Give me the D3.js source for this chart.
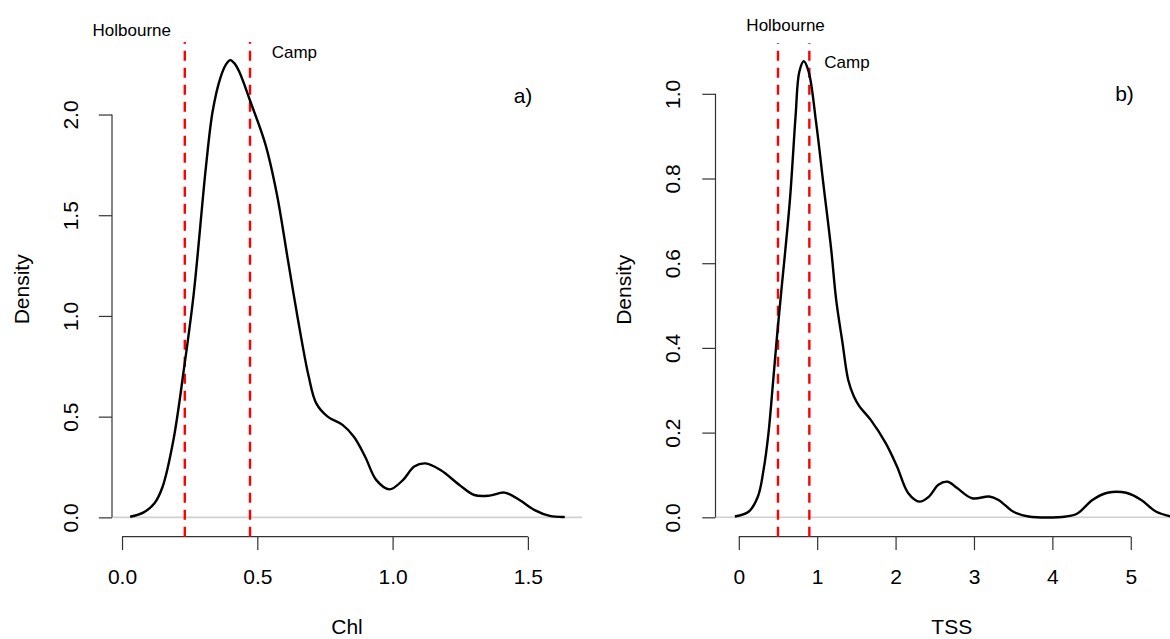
<!DOCTYPE html>
<html>
<head>
<meta charset="utf-8">
<script src="https://cdn.jsdelivr.net/npm/d3@7"></script>
<style>
  body { margin: 0; background: #fff; }
  text { font-family: "Liberation Sans", Arial, sans-serif; fill: #000; }
</style>
</head>
<body>
<div id="graph"></div>
<script>
// chlorophyll density curve (Chl, density)
const chlX = [0.03, 0.08, 0.12, 0.15, 0.19, 0.23, 0.265, 0.31, 0.335, 0.363, 0.385, 0.40, 0.415, 0.433, 0.474, 0.53, 0.572, 0.613, 0.648, 0.69, 0.718, 0.76, 0.815, 0.857, 0.899, 0.94, 0.989, 1.038, 1.08, 1.121, 1.177, 1.247, 1.302, 1.358, 1.414, 1.469, 1.525, 1.581, 1.636]
const chlDensity = [0.003, 0.025, 0.07, 0.152, 0.384, 0.748, 1.11, 1.738, 2.016, 2.18, 2.25, 2.27, 2.255, 2.213, 2.066, 1.852, 1.607, 1.279, 1.0, 0.699, 0.566, 0.5, 0.459, 0.4, 0.3, 0.185, 0.139, 0.185, 0.252, 0.268, 0.235, 0.161, 0.111, 0.108, 0.123, 0.086, 0.036, 0.007, 0.002]

// TSS density curve (TSS, density)
const tssX = [-0.05, 0.125, 0.244, 0.316, 0.379, 0.436, 0.484, 0.532, 0.652, 0.724, 0.772, 0.829, 0.892, 0.988, 1.083, 1.179, 1.242, 1.323, 1.395, 1.467, 1.539, 1.683, 1.874, 2.018, 2.162, 2.306, 2.426, 2.546, 2.665, 2.785, 2.977, 3.193, 3.313, 3.504, 3.696, 4.175, 4.319, 4.511, 4.703, 4.942, 5.134, 5.326, 5.518]
const tssDensity = [0.002, 0.013, 0.049, 0.112, 0.199, 0.317, 0.42, 0.514, 0.749, 0.946, 1.052, 1.077, 1.052, 0.93, 0.781, 0.632, 0.514, 0.412, 0.325, 0.286, 0.262, 0.23, 0.175, 0.12, 0.057, 0.037, 0.049, 0.077, 0.084, 0.069, 0.045, 0.049, 0.041, 0.013, 0.002, 0.002, 0.009, 0.041, 0.058, 0.058, 0.041, 0.013, 0.002]

// site reference values
const siteNames = ["Holbourne", "Camp"]
const chlSites = [0.232, 0.473]
const tssSites = [0.5, 0.9]

// tick values
const chlTicksX = [0, 0.5, 1.0, 1.5]
const chlTicksY = [0, 0.5, 1.0, 1.5, 2.0]
const tssTicksX = [0, 1, 2, 3, 4, 5]
const tssTicksY = [0, 0.2, 0.4, 0.6, 0.8, 1.0]

const width = 1170
const height = 639

const svg = d3.select("#graph")
  .append("svg")
  .attr("width", width)
  .attr("height", height)

svg.append("rect").attr("width", width).attr("height", height).attr("fill", "#fff")

const panels = [
  {
    xs: chlX, ys: chlDensity, sites: chlSites,
    ticksX: chlTicksX, ticksY: chlTicksY,
    fmtX: d3.format(".1f"), fmtY: d3.format(".1f"),
    xDomain: [-0.037, 1.70], yDomain: [-0.096, 2.36],
    left: 112, right: 582, top: 42, bottom: 536.7,
    xTitle: "Chl", tag: "a)",
    labelPos: [[0.036, 2.418], [0.637, 2.306]], tagPos: [1.482, 2.092],
    yLabX: 70, yTitleX: 21, clipRight: 585
  },
  {
    xs: tssX, ys: tssDensity, sites: tssSites,
    ticksX: tssTicksX, ticksY: tssTicksY,
    fmtX: d3.format("d"), fmtY: d3.format(".1f"),
    xDomain: [-0.297, 5.73], yDomain: [-0.0458, 1.12],
    left: 715.5, right: 1188, top: 43, bottom: 536.7,
    xTitle: "TSS", tag: "b)",
    labelPos: [[0.597, 1.162], [1.38, 1.073]], tagPos: [4.92, 1.001],
    yLabX: 672, yTitleX: 623, clipRight: 1170
  }
]

panels.forEach((p, i) => {
  const x = d3.scaleLinear().domain(p.xDomain).range([p.left, p.right])
  const y = d3.scaleLinear().domain(p.yDomain).range([p.bottom, p.top])

  const g = svg.append("g")

  // zero line
  g.append("line")
    .attr("x1", p.left).attr("x2", Math.min(p.right, p.clipRight))
    .attr("y1", y(0)).attr("y2", y(0))
    .attr("stroke", "#d0d0d0").attr("stroke-width", 1.6)

  // x axis, R style: line only between first and last tick
  const xAxis = g.append("g")
    .attr("transform", "translate(0," + p.bottom + ")")
    .call(d3.axisBottom(x).tickValues(p.ticksX).tickFormat(p.fmtX).tickSize(13.3).tickPadding(19))
  xAxis.select(".domain").remove()
  xAxis.append("line")
    .attr("x1", x(p.ticksX[0])).attr("x2", x(p.ticksX[p.ticksX.length - 1]))
  xAxis.selectAll("line").attr("stroke", "#333").attr("stroke-width", 1.2)
  xAxis.selectAll("text").attr("font-size", 21).attr("fill", "#000")
    .attr("font-family", "Liberation Sans, Arial, sans-serif")

  // y axis with rotated labels
  const yAxis = g.append("g")
    .attr("transform", "translate(" + p.left + ",0)")
    .call(d3.axisLeft(y).tickValues(p.ticksY).tickFormat(p.fmtY).tickSize(13.2))
  yAxis.select(".domain").remove()
  yAxis.append("line")
    .attr("y1", y(p.ticksY[0])).attr("y2", y(p.ticksY[p.ticksY.length - 1]))
  yAxis.selectAll("line").attr("stroke", "#333").attr("stroke-width", 1.2)
  yAxis.selectAll("text")
    .attr("x", null).attr("dy", null)
    .attr("transform", "translate(" + (p.yLabX - p.left) + ",0) rotate(-90)")
    .attr("text-anchor", "middle")
    .attr("dominant-baseline", "central")
    .attr("font-size", 21).attr("fill", "#000")
    .attr("font-family", "Liberation Sans, Arial, sans-serif")

  // site reference lines (drawn bottom to top)
  g.selectAll(".site").data(p.sites).enter().append("line")
    .attr("x1", d => x(d)).attr("x2", d => x(d))
    .attr("y1", p.bottom).attr("y2", p.top)
    .attr("stroke", "#ff0000").attr("stroke-width", 2.4)
    .attr("stroke-dasharray", "10,7")

  // density curve
  const pts = p.xs.map((v, k) => [v, p.ys[k]])
  g.append("path").datum(pts)
    .attr("fill", "none").attr("stroke", "#000").attr("stroke-width", 2.4)
    .attr("stroke-linejoin", "round")
    .attr("d", d3.line()
      .x(d => x(d[0]))
      .y(d => y(d[1]))
      .curve(d3.curveCatmullRom.alpha(0.5)))

  // site names
  g.selectAll(".lab").data(siteNames).enter().append("text")
    .attr("x", (d, k) => x(p.labelPos[k][0]))
    .attr("y", (d, k) => y(p.labelPos[k][1]))
    .attr("text-anchor", "middle").attr("dominant-baseline", "central")
    .attr("font-size", 17)
    .text(d => d)

  // panel tag
  g.append("text")
    .attr("x", x(p.tagPos[0])).attr("y", y(p.tagPos[1]))
    .attr("text-anchor", "middle").attr("dominant-baseline", "central")
    .attr("font-size", 21)
    .text(p.tag)

  // axis titles
  g.append("text")
    .attr("x", (p.left + p.right) / 2).attr("y", 626)
    .attr("text-anchor", "middle").attr("dominant-baseline", "central")
    .attr("font-size", 21)
    .text(p.xTitle)

  g.append("text")
    .attr("transform", "translate(" + p.yTitleX + "," + ((p.top + p.bottom) / 2) + ") rotate(-90)")
    .attr("text-anchor", "middle").attr("dominant-baseline", "central")
    .attr("font-size", 21)
    .text("Density")
})
</script>
</body>
</html>
